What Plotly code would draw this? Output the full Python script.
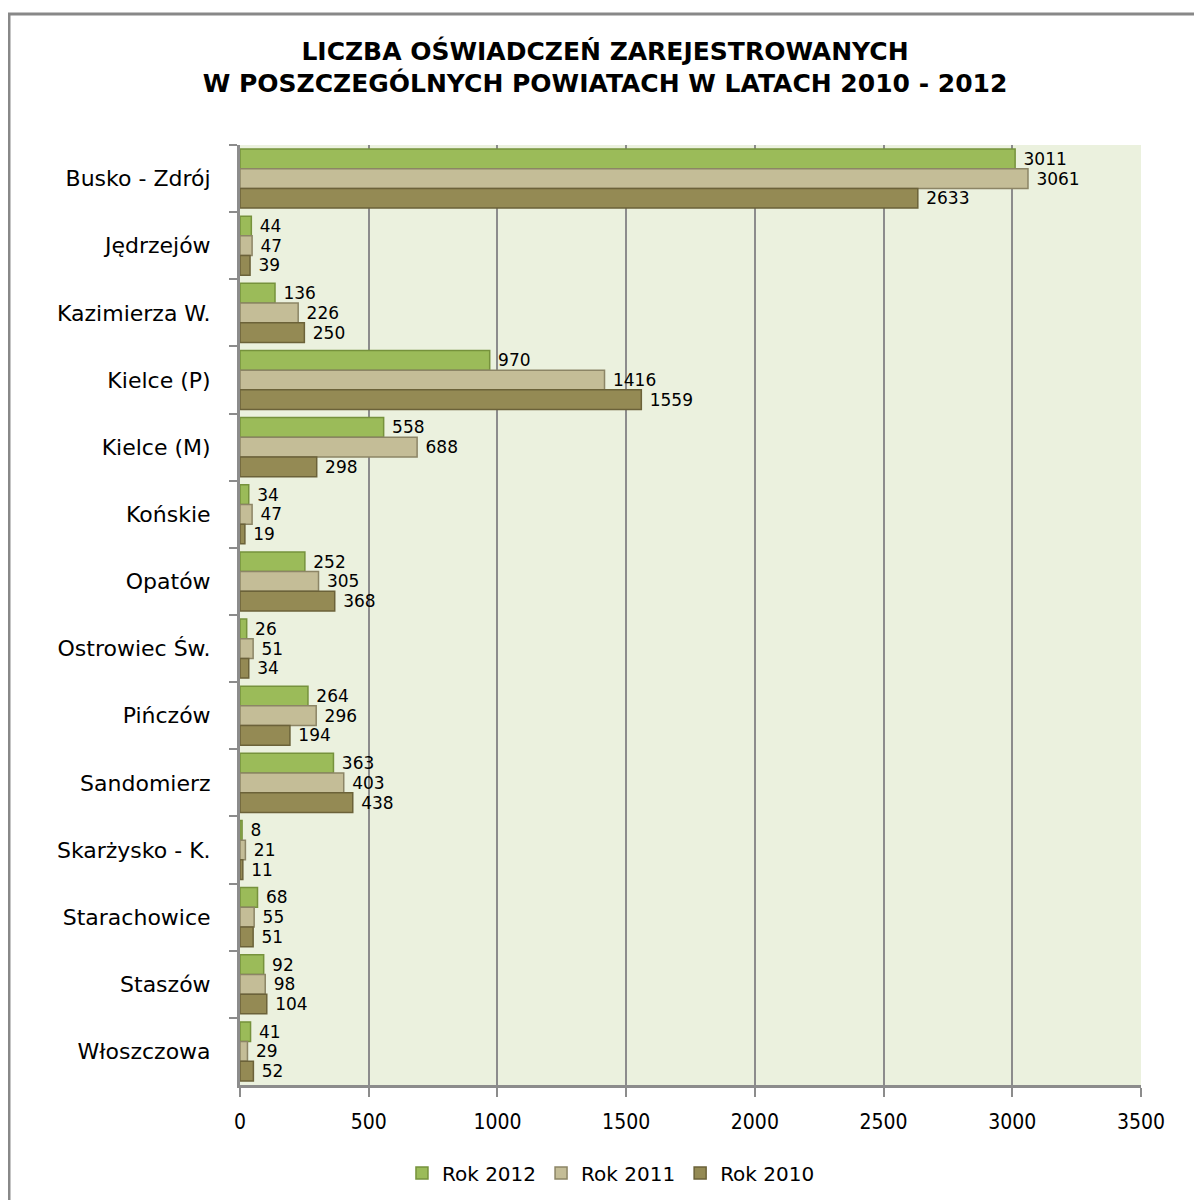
import plotly.graph_objects as go

categories = ["Busko - Zdrój", "Jędrzejów", "Kazimierza W.", "Kielce (P)", "Kielce (M)",
              "Końskie", "Opatów", "Ostrowiec Św.", "Pińczów", "Sandomierz",
              "Skarżysko - K.", "Starachowice", "Staszów", "Włoszczowa"]
rok_2012 = [3011, 44, 136, 970, 558, 34, 252, 26, 264, 363, 8, 68, 92, 41]
rok_2011 = [3061, 47, 226, 1416, 688, 47, 305, 51, 296, 403, 21, 55, 98, 29]
rok_2010 = [2633, 39, 250, 1559, 298, 19, 368, 34, 194, 438, 11, 51, 104, 52]
x_ticks = [0, 500, 1000, 1500, 2000, 2500, 3000, 3500]

series = [
    ("Rok 2012", rok_2012, "#9BBB59", "#76923C"),
    ("Rok 2011", rok_2011, "#C4BD97", "#8C8566"),
    ("Rok 2010", rok_2010, "#948A54", "#6B6239"),
]

fig = go.Figure()
for name, vals, col, edge in series:
    fig.add_trace(go.Bar(
        y=categories, x=vals, name=name, orientation="h",
        marker=dict(color=col, line=dict(color=edge, width=1.5)),
        text=["\u00a0" + str(v) for v in vals], textposition="outside",
        textfont=dict(family="DejaVu Sans", size=17, color="#000000"),
        constraintext="none",
        cliponaxis=False,
    ))

fig.update_layout(
    width=1194, height=1192,
    paper_bgcolor="white", plot_bgcolor="#EBF1DE",
    barmode="group", bargap=0.12, bargroupgap=0,
    margin=dict(l=232, r=61, t=137, b=115, autoexpand=False),
    title=dict(
        text="<b>LICZBA OŚWIADCZEŃ ZAREJESTROWANYCH<br>W POSZCZEGÓLNYCH POWIATACH W LATACH 2010 - 2012</b>",
        x=0.5, xanchor="center", y=0.9565, yanchor="top",
        font=dict(family="DejaVu Sans", size=25, color="#000000"),
    ),
    xaxis=dict(
        range=[0, 3500], tickvals=x_ticks, ticktext=[str(t) for t in x_ticks],
        showgrid=True, gridcolor="#8C8C8C", gridwidth=2,
        showline=True, linecolor="#8C8C8C", linewidth=3,
        ticks="outside", tickcolor="#8C8C8C", ticklen=9, tickwidth=2,
        ticklabelstandoff=7,
        tickfont=dict(family="DejaVu Sans Condensed", size=21, color="#000000"),
        zeroline=False, automargin=False,
    ),
    yaxis=dict(
        autorange="reversed",
        showline=True, linecolor="#8C8C8C", linewidth=3,
        ticks="outside", tickson="boundaries",
        tickcolor="#8C8C8C", ticklen=8, tickwidth=2,
        ticklabelstandoff=22,
        tickfont=dict(family="DejaVu Sans", size=22, color="#000000"),
        automargin=False,
    ),
    legend=dict(
        orientation="h", xref="container", x=0.505, xanchor="center",
        y=-0.073, yanchor="top",
        font=dict(family="DejaVu Sans", size=20, color="#000000"),
        itemwidth=30, traceorder="normal",
    ),
    showlegend=True,
)

fig.add_shape(type="rect", xref="paper", yref="paper",
              x0=-0.2564, x1=1.3, y0=-0.3, y1=1.1394,
              line=dict(color="#888888", width=3), fillcolor="rgba(0,0,0,0)",
              layer="below")

fig.write_html("out.html")
